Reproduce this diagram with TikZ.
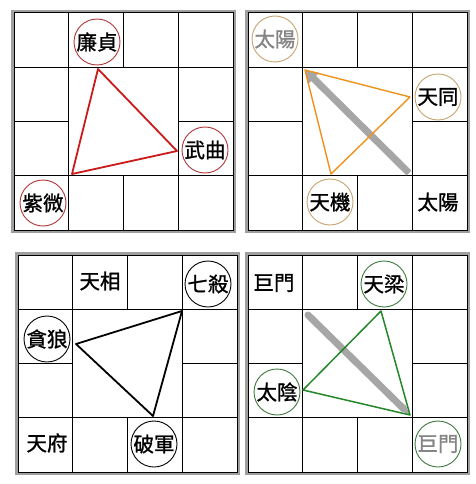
\documentclass[tikz,border=0pt]{standalone}
\usepackage{fontspec}
\newfontfamily\cjk[FakeBold=1.2]{Noto Sans CJK TC}
\usetikzlibrary{arrows.meta}
\definecolor{redc}{HTML}{B03838}
\definecolor{redt}{HTML}{CC1A1A}
\definecolor{orc}{HTML}{C8A470}
\definecolor{ort}{HTML}{F0921E}
\definecolor{grc}{HTML}{3C7A3C}
\definecolor{grt}{HTML}{25862A}
\definecolor{arrg}{HTML}{A6A6A6}
\definecolor{txtg}{HTML}{858585}
\tikzset{
  gridline/.style={black, line width=1pt},
  outerg/.style={draw=gray!75, line width=2.5pt},
  star/.style={circle, minimum size=46pt, inner sep=0pt, line width=0.9pt, font=\cjk\fontsize{20.5}{20.5}\selectfont},
  plain/.style={inner sep=0pt, font=\cjk\fontsize{20.5}{20.5}\selectfont},
  tri/.style={line width=1.8pt, line join=round},
  bigarrow/.style={draw=arrg, line width=7pt},
}
\newcommand\gridpanel[2]{%
  \begin{scope}[shift={(#1,#2)}]
    \draw[outerg] (-1.5,-1.5) rectangle (220.5,218.5);
    \draw[gridline] (0,0) rectangle (219,217);
    \draw[gridline] (54.75,0) -- (54.75,217) (164.25,0) -- (164.25,217)
      (0,54.25) -- (219,54.25) (0,162.75) -- (219,162.75)
      (109.5,0) -- (109.5,54.25) (109.5,162.75) -- (109.5,217)
      (0,108.5) -- (54.75,108.5) (164.25,108.5) -- (219,108.5);
  \end{scope}}
\begin{document}
\begin{tikzpicture}[x=1pt, y=-1pt]
\useasboundingbox[fill=white] (0,0) rectangle (475,484);
% grids
\gridpanel{14}{13}
\gridpanel{248}{13}
\gridpanel{18}{255}
\gridpanel{248}{255}
% ---------- panel 1 ----------
\node[star, draw=redc, fill=white] (lianzhen) at (97,42) {廉貞};
\node[star, draw=redc, fill=white] (wuqu) at (205,150) {武曲};
\node[star, draw=redc, fill=white] (ziwei) at (43,203) {紫微};
\coordinate (r1) at (98,69);
\coordinate (r2) at (177,151);
\coordinate (r3) at (72,174);
\draw[tri, draw=redt] (r1) -- (r2) -- (r3) -- cycle;
% ---------- panel 2 ----------
\node[star, draw=orc, fill=white, text=txtg] (taiyangA) at (275,39) {太陽};
\node[star, draw=orc, fill=white] (tiantong) at (438,97) {天同};
\node[star, draw=orc, fill=white] (tianji) at (330,202) {天機};
\node[plain] (taiyangB) at (438,202) {太陽};
\coordinate (o1) at (305,70);
\coordinate (o2) at (410,97);
\coordinate (o3) at (331,174);
\coordinate (a2s) at (409,173);
\draw[bigarrow, -{Triangle[width=15pt,length=12pt]}] (a2s) -- (o1);
\draw[tri, line width=1.4pt, draw=ort] (o1) -- (o2) -- (o3) -- cycle;
% ---------- panel 3 ----------
\node[plain] (tianxiang) at (100,281) {天相};
\node[star, draw=black, fill=white] (qisha) at (208,284) {七殺};
\node[star, draw=black, fill=white] (tanlang) at (47,339) {貪狼};
\node[plain] (tianfu) at (47,443) {天府};
\node[star, draw=black, fill=white] (pojun) at (154,444) {破軍};
\coordinate (k1) at (182,311);
\coordinate (k2) at (76,344);
\coordinate (k3) at (153,416);
\draw[tri, draw=black] (k1) -- (k2) -- (k3) -- cycle;
% ---------- panel 4 ----------
\node[plain] (jumenA) at (274,283) {巨門};
\node[star, draw=grc, fill=white] (tianliang) at (384,284) {天梁};
\node[star, draw=grc, fill=white] (taiyin) at (277,392) {太陰};
\node[star, draw=grc, fill=white, text=txtg] (jumenB) at (438,444) {巨門};
\coordinate (g1) at (381,311);
\coordinate (g2) at (303,390);
\coordinate (g3) at (410,415);
\coordinate (a4s) at (308,315);
\draw[bigarrow, line cap=round, -{Triangle[width=7pt,length=10pt]}] (a4s) -- (g3);
\draw[tri, line width=1.5pt, draw=grt] (g1) -- (g2) -- (g3) -- cycle;
\end{tikzpicture}
\end{document}
